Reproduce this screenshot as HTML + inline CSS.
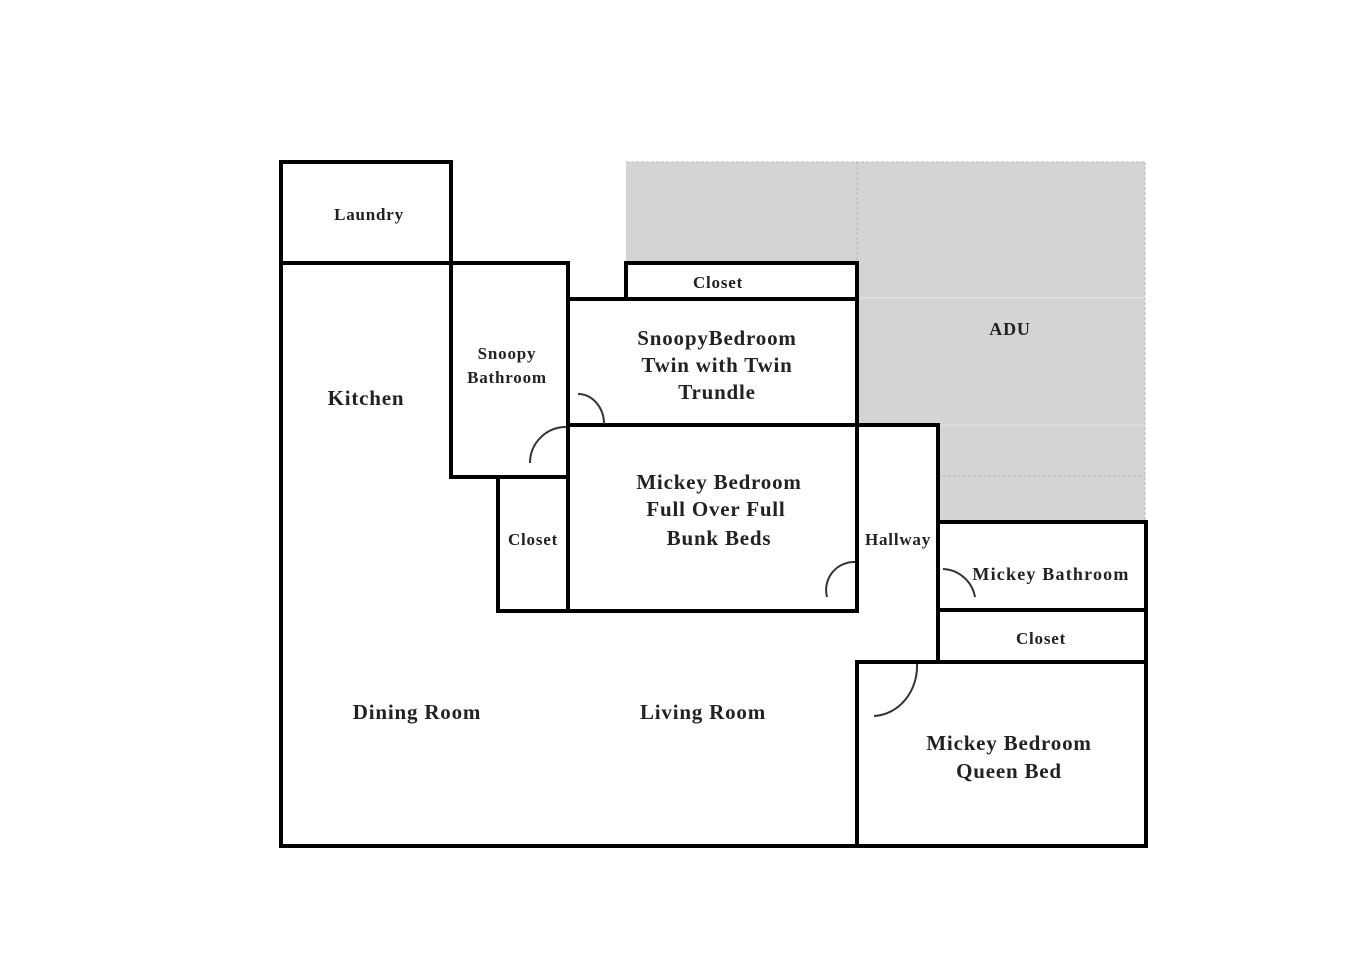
<!DOCTYPE html>
<html><head><meta charset="utf-8"><style>body{margin:0;background:#fff}</style></head><body>
<svg width="1367" height="960" viewBox="0 0 1367 960" xmlns="http://www.w3.org/2000/svg">
<polygon points="626,162 1145,162 1145,522 938,522 938,425 857,425 857,263 626,263" fill="#d4d4d4"/>
<g stroke="#b8b8b8" stroke-width="1" stroke-dasharray="3,2" fill="none">
<line x1="626" y1="162" x2="1145" y2="162"/>
<line x1="1145" y1="162" x2="1145" y2="522"/>
<line x1="857" y1="162" x2="857" y2="263"/>
<line x1="938" y1="476" x2="1145" y2="476"/>
</g>
<g stroke="#e6e6e6" stroke-width="1">
<line x1="857" y1="298" x2="1145" y2="298"/>
<line x1="938" y1="425" x2="1145" y2="425"/>
</g>
<g stroke="#000" stroke-width="4" fill="none" stroke-linecap="square">
<rect x="281" y="162" width="170" height="101"/>
<line x1="281" y1="263" x2="281" y2="846"/>
<line x1="281" y1="846" x2="1146" y2="846"/>
<line x1="281" y1="263" x2="568" y2="263"/>
<line x1="451" y1="263" x2="451" y2="477"/>
<line x1="568" y1="263" x2="568" y2="611"/>
<line x1="451" y1="477" x2="568" y2="477"/>
<line x1="498" y1="477" x2="498" y2="611"/>
<line x1="498" y1="611" x2="857" y2="611"/>
<rect x="626" y="263" width="231" height="36"/>
<line x1="568" y1="299" x2="857" y2="299"/>
<line x1="857" y1="263" x2="857" y2="611"/>
<line x1="568" y1="425" x2="938" y2="425"/>
<line x1="938" y1="425" x2="938" y2="662"/>
<line x1="938" y1="522" x2="1146" y2="522"/>
<line x1="1146" y1="522" x2="1146" y2="846"/>
<line x1="938" y1="610" x2="1146" y2="610"/>
<line x1="857" y1="662" x2="1146" y2="662"/>
<line x1="857" y1="662" x2="857" y2="846"/>
</g>
<g stroke="#333" stroke-width="2" fill="none">
<path d="M578,394 A26,30 0 0 1 604,424"/>
<path d="M566,427 A36,36 0 0 0 530,463"/>
<path d="M855,562 A28,28 0 0 0 827,597"/>
<path d="M943,569 A34,34 0 0 1 975,597"/>
<path d="M917,664 A45,50 0 0 1 874,716"/>
</g>
<g font-family="Liberation Serif, serif" font-weight="bold" fill="#222" text-anchor="middle" letter-spacing="0.8">
<text x="369" y="220" font-size="17">Laundry</text>
<text x="366" y="405" font-size="21">Kitchen</text>
<text x="507" y="359" font-size="17">Snoopy</text>
<text x="507" y="383" font-size="17">Bathroom</text>
<text x="718" y="288" font-size="17">Closet</text>
<text x="717" y="345" font-size="21">SnoopyBedroom</text>
<text x="717" y="372" font-size="21">Twin with Twin</text>
<text x="717" y="399" font-size="21">Trundle</text>
<text x="719" y="489" font-size="21">Mickey Bedroom</text>
<text x="716" y="516" font-size="21">Full Over Full</text>
<text x="719" y="545" font-size="21">Bunk Beds</text>
<text x="533" y="545" font-size="17">Closet</text>
<text x="898" y="545" font-size="17">Hallway</text>
<text x="1010" y="335" font-size="18">ADU</text>
<text x="1051" y="580" font-size="18" letter-spacing="1.2">Mickey Bathroom</text>
<text x="1041" y="644" font-size="17">Closet</text>
<text x="417" y="719" font-size="21">Dining Room</text>
<text x="703" y="719" font-size="21">Living Room</text>
<text x="1009" y="750" font-size="21">Mickey Bedroom</text>
<text x="1009" y="778" font-size="21">Queen Bed</text>
</g>
</svg>
</body></html>
